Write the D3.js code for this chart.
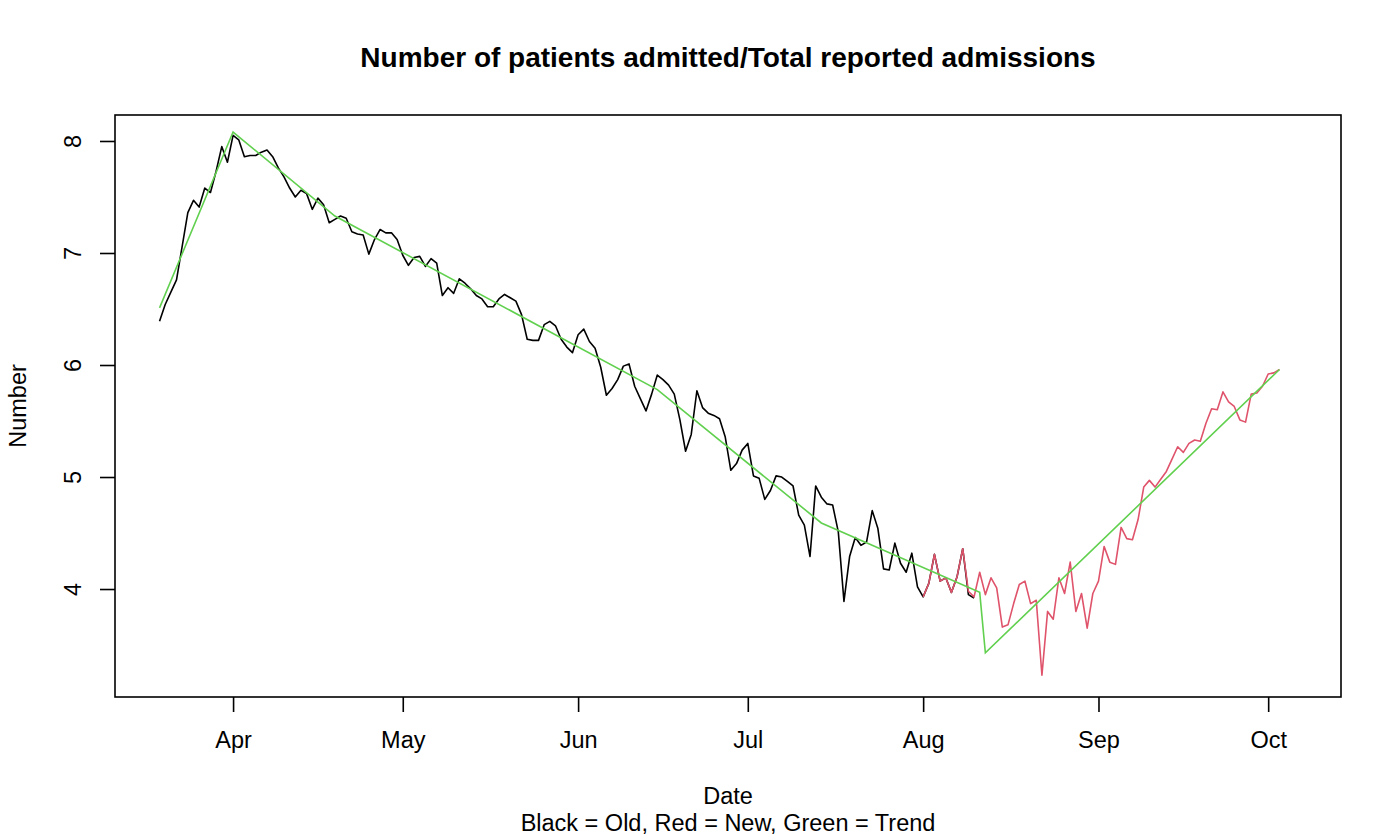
<!DOCTYPE html>
<html>
<head>
<meta charset="utf-8">
<script src="https://d3js.org/d3.v7.min.js"></script>
<style>
  body { margin: 0; background: #fff; }
  svg text { font-family: "Liberation Sans", Arial, Helvetica, sans-serif; fill: #000; }
</style>
</head>
<body>
<div id="chart"></div>
<script>
// old series: daily from 19 Mar
const oldStart = "2021-03-19";
const oldValues = [
  6.39, 6.54, 6.65, 6.76, 7.06, 7.36, 7.47, 7.41, 7.58, 7.54, 7.73, 7.95, 7.81,
  8.05, 8.01, 7.86, 7.87, 7.87, 7.90, 7.92, 7.86, 7.76, 7.68,
  7.58, 7.50, 7.56, 7.53, 7.39, 7.49, 7.43, 7.27, 7.30, 7.33,
  7.31, 7.19, 7.17, 7.16, 6.99, 7.12, 7.21, 7.18, 7.18, 7.12,
  6.98, 6.89, 6.96, 6.97, 6.88, 6.95, 6.91, 6.62, 6.69, 6.64,
  6.77, 6.73, 6.68, 6.62, 6.59, 6.52, 6.52, 6.59, 6.63, 6.60,
  6.57, 6.45, 6.23, 6.22, 6.22, 6.36, 6.39, 6.35, 6.23, 6.16,
  6.11, 6.27, 6.32, 6.21, 6.15, 5.98, 5.73, 5.79, 5.87, 5.99,
  6.01, 5.81, 5.70, 5.59, 5.74, 5.91, 5.87, 5.82, 5.74, 5.51,
  5.23, 5.38, 5.77, 5.62, 5.57, 5.55, 5.52, 5.36, 5.06, 5.12,
  5.24, 5.30, 5.01, 4.99, 4.80, 4.88, 5.01, 5.00, 4.96, 4.92,
  4.66, 4.57, 4.29, 4.92, 4.82, 4.76, 4.75, 4.51, 3.89, 4.29,
  4.46, 4.39, 4.42, 4.70, 4.54, 4.18, 4.17, 4.41, 4.23, 4.15,
  4.32, 4.02, 3.93, 4.05, 4.31, 4.07, 4.10, 3.97, 4.11, 4.36, 3.95, 3.92
];

// new series: daily from 1 Aug
const newStart = "2021-08-01";
const newValues = [
  3.93, 4.05, 4.31, 4.07, 4.10, 3.97, 4.11, 4.36, 3.98, 3.93,
  4.15, 3.95, 4.10, 4.01, 3.66, 3.68, 3.87, 4.04, 4.07, 3.87,
  3.90, 3.23, 3.80, 3.73, 4.10, 3.96, 4.24, 3.80, 3.96, 3.65,
  3.96, 4.07, 4.38, 4.24, 4.22, 4.55, 4.45, 4.44, 4.62, 4.91,
  4.97, 4.91, 4.98, 5.05, 5.16, 5.27, 5.22, 5.30, 5.33, 5.32,
  5.48, 5.61, 5.60, 5.76, 5.67, 5.63, 5.51, 5.49, 5.74, 5.75,
  5.81, 5.92, 5.93, 5.96
];

// trend: piecewise segments
const trendDates  = ["2021-03-19", "2021-04-01", "2021-04-19", "2021-06-15", "2021-07-14", "2021-08-11", "2021-08-12", "2021-10-03"];
const trendValues = [6.51, 8.08, 7.33, 5.78, 4.59, 3.97, 3.43, 5.96];

// axis limits
const xLimits = ["2021-03-11T03:00", "2021-10-13T21:00"];
const yLimits = [3.036, 8.232];
const yTicks = [4, 5, 6, 7, 8];

const parse = d3.timeParse("%Y-%m-%d");
const parseT = d3.timeParse("%Y-%m-%dT%H:%M");

function daily(start, values) {
  const t0 = parse(start);
  return values.map((v, i) => ({ date: d3.timeDay.offset(t0, i), value: v }));
}

const oldData   = daily(oldStart, oldValues);
const newData   = daily(newStart, newValues);
const trendData = trendDates.map((d, i) => ({ date: parse(d), value: trendValues[i] }));

const W = 1400, H = 840;
const margin = { top: 115, right: 59, bottom: 143, left: 115 };
const pw = W - margin.left - margin.right;
const ph = H - margin.top - margin.bottom;
const fs = 23.5;

const svg = d3.select("#chart")
  .append("svg")
  .attr("width", W)
  .attr("height", H);

const x = d3.scaleTime()
  .domain(xLimits.map(parseT))
  .range([0, pw]);

const y = d3.scaleLinear()
  .domain(yLimits)
  .range([ph, 0]);

const g = svg.append("g")
  .attr("transform", "translate(" + margin.left + "," + margin.top + ")");

// lines
const line = d3.line()
  .x(d => x(d.date))
  .y(d => y(d.value));

g.append("path")
  .datum(oldData)
  .attr("d", line)
  .attr("fill", "none")
  .attr("stroke", "#000")
  .attr("stroke-width", 1.6)
  .attr("stroke-linejoin", "round");

g.append("path")
  .datum(newData)
  .attr("d", line)
  .attr("fill", "none")
  .attr("stroke", "#DF536B")
  .attr("stroke-width", 1.6)
  .attr("stroke-linejoin", "round");

g.append("path")
  .datum(trendData)
  .attr("d", line)
  .attr("fill", "none")
  .attr("stroke", "#61D04F")
  .attr("stroke-width", 1.6);

// box
g.append("rect")
  .attr("x", 0).attr("y", 0)
  .attr("width", pw).attr("height", ph)
  .attr("fill", "none")
  .attr("stroke", "#000")
  .attr("stroke-width", 1.6);

// x axis
const xAxis = g.append("g")
  .attr("transform", "translate(0," + ph + ")")
  .call(d3.axisBottom(x)
    .ticks(d3.timeMonth.every(1))
    .tickFormat(d3.timeFormat("%b"))
    .tickSize(15)
    .tickPadding(19));
xAxis.select(".domain").remove();
xAxis.selectAll("line").attr("stroke", "#000").attr("stroke-width", 1.6);
xAxis.selectAll("text").attr("font-size", fs).attr("fill", "#000");

// y axis (labels rotated, R style)
const yAxis = g.append("g")
  .call(d3.axisLeft(y).tickValues(yTicks).tickSize(15).tickFormat(d3.format("d")));
yAxis.select(".domain").remove();
yAxis.selectAll("line").attr("stroke", "#000").attr("stroke-width", 1.6);
yAxis.selectAll("text")
  .attr("font-size", fs)
  .attr("fill", "#000")
  .attr("x", null).attr("dy", null)
  .attr("text-anchor", "middle")
  .attr("transform", "translate(-34,0) rotate(-90)");

// titles
svg.append("text")
  .attr("x", margin.left + pw / 2)
  .attr("y", 67)
  .attr("text-anchor", "middle")
  .attr("font-size", 28)
  .attr("font-weight", "bold")
  .text("Number of patients admitted/Total reported admissions");

svg.append("text")
  .attr("x", margin.left + pw / 2)
  .attr("y", 804)
  .attr("text-anchor", "middle")
  .attr("font-size", fs)
  .text("Date");

svg.append("text")
  .attr("x", margin.left + pw / 2)
  .attr("y", 831)
  .attr("text-anchor", "middle")
  .attr("font-size", fs)
  .text("Black = Old, Red = New, Green = Trend");

svg.append("text")
  .attr("transform", "translate(26," + (margin.top + ph / 2) + ") rotate(-90)")
  .attr("text-anchor", "middle")
  .attr("font-size", fs)
  .text("Number");
</script>
</body>
</html>
